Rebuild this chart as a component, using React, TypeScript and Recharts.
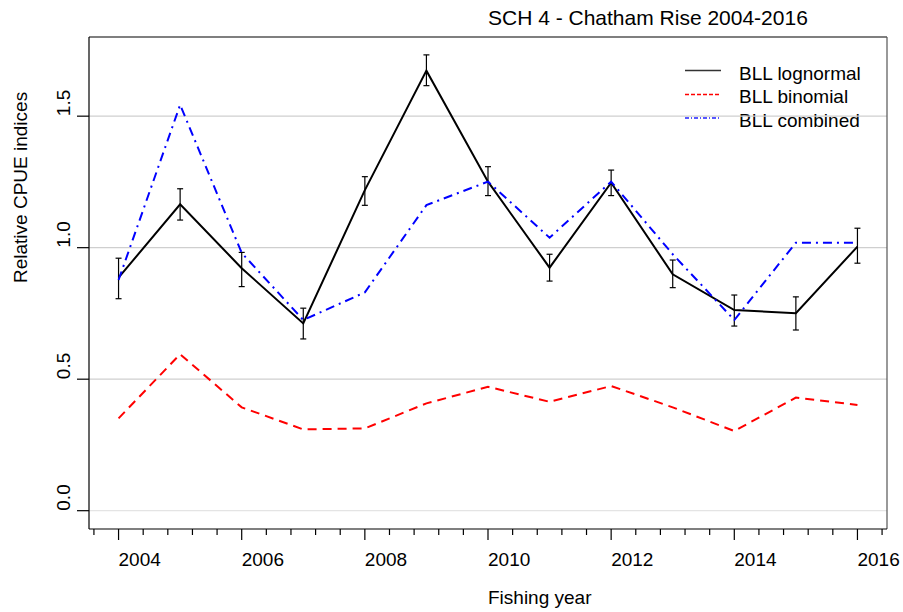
import { LineChart, Line, XAxis, YAxis, ErrorBar, ReferenceLine, Customized } from 'recharts'

const years = [2004, 2005, 2006, 2007, 2008, 2009, 2010, 2011, 2012, 2013, 2014, 2015, 2016]
const lognormal = [0.886, 1.165, 0.922, 0.712, 1.219, 1.673, 1.251, 0.924, 1.247, 0.899, 0.763, 0.751, 1.004]
const lognormalLower = [0.806, 1.105, 0.852, 0.653, 1.161, 1.616, 1.198, 0.873, 1.198, 0.848, 0.702, 0.687, 0.941]
const lognormalUpper = [0.96, 1.224, 0.982, 0.77, 1.27, 1.733, 1.308, 0.975, 1.295, 0.953, 0.82, 0.813, 1.074]
const binomial = [0.351, 0.595, 0.393, 0.309, 0.313, 0.408, 0.471, 0.414, 0.474, 0.393, 0.303, 0.43, 0.402]
const combined = [0.877, 1.543, 0.98, 0.725, 0.83, 1.162, 1.251, 1.038, 1.251, 0.975, 0.725, 1.019, 1.019]

const yTicks = [0, 0.5, 1, 1.5]
const yTickLabels = ['0.0', '0.5', '1.0', '1.5']
const xLabelYears = [2004, 2006, 2008, 2010, 2012, 2014, 2016]

const X_MIN = 2003.52
const X_MAX = 2016.48
const Y_MIN = -0.0696
const Y_MAX = 1.801

// minor ticks every 0.4 yr, like the R default axis
const xTicks = Array.from({ length: 33 }, (_, i) => Math.round((2003.6 + i * 0.4) * 10) / 10)

const data = years.map((year, i) => ({
  year,
  lognormal: lognormal[i],
  err: [lognormal[i] - lognormalLower[i], lognormalUpper[i] - lognormal[i]],
  binomial: binomial[i],
  combined: combined[i],
}))

const FONT = '"Liberation Sans", Arial, sans-serif'

const legendItems = [
  { label: 'BLL lognormal', color: '#333333', dash: undefined, y: 70.5 },
  { label: 'BLL binomial', color: '#ff0000', dash: '4 2', y: 94.5 },
  { label: 'BLL combined', color: '#2020ff', dash: '4 2 1 2', y: 118 },
]

const XTick = ({ x, y, payload }: any) => {
  const v = payload.value
  const major = xLabelYears.includes(v)
  return (
    <g>
      <line x1={x} x2={x} y1={y} y2={y + (major ? 11 : 6)} stroke="#000" strokeWidth={1.2} />
      {major && (
        <text x={x} y={y + 37} textAnchor="start" fontSize={19} fontFamily={FONT} fill="#000">
          {v}
        </text>
      )}
    </g>
  )
}

const YTick = ({ x, y, payload }: any) => {
  const idx = yTicks.indexOf(payload.value)
  return (
    <g>
      <line x1={x - 12} x2={x} y1={y} y2={y} stroke="#000" strokeWidth={1.2} />
      <text
        x={70}
        y={y}
        transform={`rotate(-90, 70, ${y})`}
        textAnchor="start"
        fontSize={19}
        fontFamily={FONT}
        fill="#000"
      >
        {yTickLabels[idx]}
      </text>
    </g>
  )
}

// Titulo, etiquetas de ejes y leyenda
const Decorations = () => (
  <g fontFamily={FONT}>
    <text x={488} y={25} fontSize={21} textAnchor="start" fill="#000">
      SCH 4 - Chatham Rise 2004-2016
    </text>
    <text x={488} y={604} fontSize={19} textAnchor="start" fill="#000">
      Fishing year
    </text>
    <text x={27} y={283} fontSize={19} textAnchor="start" fill="#000" transform="rotate(-90, 27, 283)">
      Relative CPUE indices
    </text>
    {legendItems.map((item, i) => (
      <g key={item.label}>
        <line
          x1={685}
          x2={721}
          y1={item.y}
          y2={item.y}
          stroke={item.color}
          strokeWidth={1.4}
          strokeDasharray={item.dash}
        />
        <text x={739} y={80 + i * 23.4} fontSize={19} fill="#000">
          {item.label}
        </text>
      </g>
    ))}
  </g>
)

export default function App() {
  return (
    <div style={{ position: 'absolute', left: 0, top: 0, width: 903, height: 612, background: '#fff' }}>
      <LineChart width={903} height={612} data={data} margin={{ top: 37, right: 16, bottom: 0, left: 0 }}>
        {yTicks.map((t) => (
          <ReferenceLine key={t} y={t} stroke={t === 0 ? '#e4e4e4' : '#cfcfcf'} strokeWidth={1.2} />
        ))}
        <ReferenceLine y={Y_MAX} stroke="#000" strokeWidth={1.2} />
        <ReferenceLine x={X_MAX} stroke="#555" strokeWidth={1.2} />
        <XAxis
          dataKey="year"
          type="number"
          domain={[X_MIN, X_MAX]}
          allowDataOverflow
          ticks={xTicks}
          interval={0}
          tickLine={false}
          tickSize={0}
          tickMargin={0}
          height={83}
          axisLine={{ stroke: '#000', strokeWidth: 1.2 }}
          tick={<XTick />}
        />
        <YAxis
          type="number"
          domain={[Y_MIN, Y_MAX]}
          allowDataOverflow
          ticks={yTicks}
          interval={0}
          tickLine={false}
          tickSize={0}
          tickMargin={0}
          width={89}
          axisLine={{ stroke: '#000', strokeWidth: 1.2 }}
          tick={<YTick />}
        />
        <Line
          type="linear"
          dataKey="lognormal"
          stroke="#000"
          strokeWidth={2}
          dot={false}
          isAnimationActive={false}
        >
          <ErrorBar dataKey="err" direction="y" width={3} stroke="#000" strokeWidth={1.2} />
        </Line>
        <Line
          type="linear"
          dataKey="binomial"
          stroke="#ff0000"
          strokeWidth={2}
          strokeDasharray="9 6"
          dot={false}
          isAnimationActive={false}
        />
        <Line
          type="linear"
          dataKey="combined"
          stroke="#0000ff"
          strokeWidth={2}
          strokeDasharray="9 5 2 5"
          dot={false}
          isAnimationActive={false}
        />
        <Customized component={Decorations} />
      </LineChart>
    </div>
  )
}
